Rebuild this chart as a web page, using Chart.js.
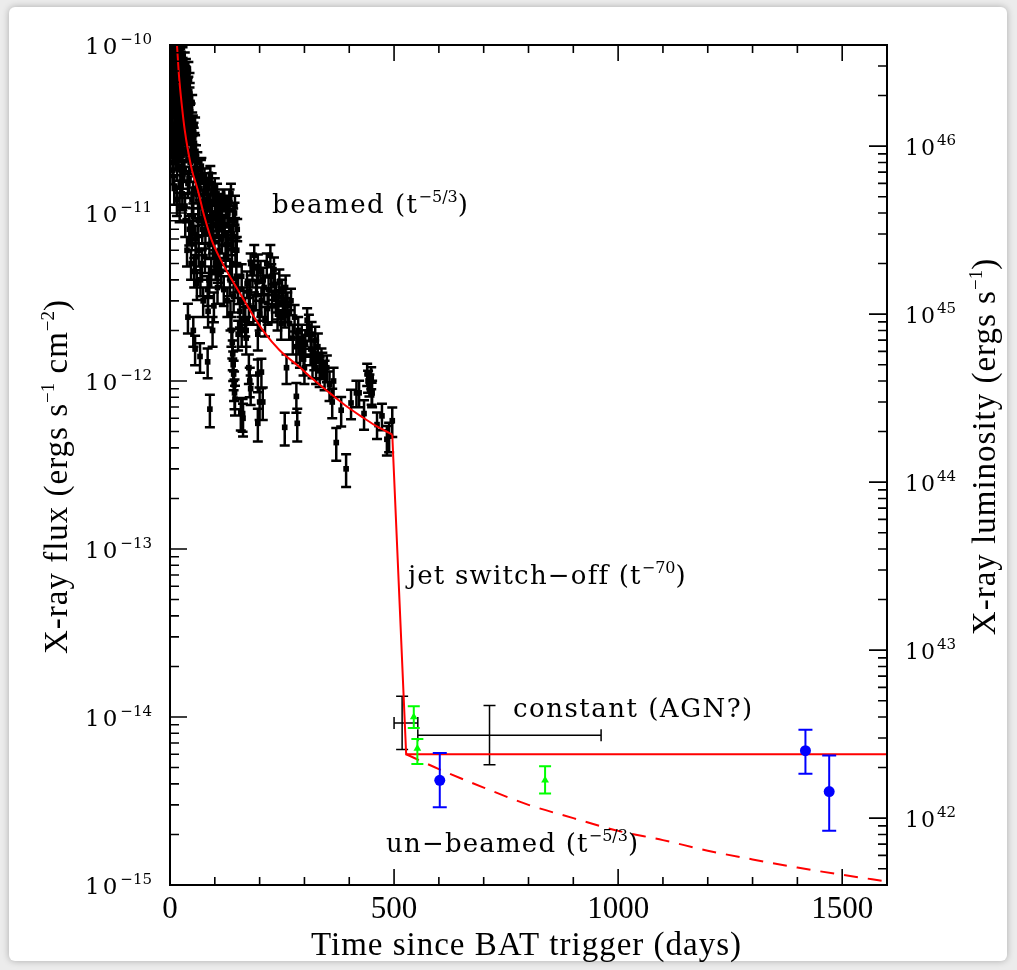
<!DOCTYPE html>
<html>
<head>
<meta charset="utf-8">
<script src="https://cdn.jsdelivr.net/npm/chart.js@4.4.0/dist/chart.umd.min.js"></script>
<style>
  html, body { margin: 0; padding: 0; background: #ececec; }
  #card { position: absolute; left: 9px; top: 7px; width: 998px; height: 954px; background: #fff;
          border-radius: 6px; box-shadow: 0 0 7px rgba(0,0,0,0.28); }
  #wrap { position: absolute; left: 0; top: 0; width: 1017px; height: 970px; }
</style>
</head>
<body>
<div id="card"></div>
<div id="wrap"><canvas id="grafica" width="1017" height="970"></canvas></div>
<script>
// Swift XRT light curve, flux in units of 1e-12 erg/s/cm2, err = fractional 1-sigma
const xrtT = [
  1,2,3,4,5,6,7,8,9,10,11,12,13,14,15,16,17,18,19,20,21,22,23,24,25,26,27,28,29,30,
  1.5,3.5,5.5,7.5,9.5,11.5,13.5,15.5,17.5,19.5,21.5,23.5,25.5,27.5,29.5,
  0.5,2.5,4.5,6.5,8.5,10.5,12.5,14.5,16.5,18.5,20.5,22.5,24.5,26.5,28.5,
  0.8,1.8,2.8,3.8,4.8,5.8,6.8,7.8,8.8,9.8,10.8,11.8,12.8,13.8,14.8,15.8,16.8,
  17.8,18.8,19.8,20.8,21.8,22.8,23.8,24.8,25.8,26.8,27.8,28.8,29.8,31.5,32.5,34,35.5,
  31,32,33,34,35,36,37,38,39,40,41,42,43,44,45,46,47,48,49,50,51,52,53,54,55,56,57,58,59,60,
  33.5,36.5,39.5,42.5,45.5,48.5,51.5,54.5,57.5,40,52,
  34.5,37.5,40.5,43.5,46.5,49.5,52.5,55.5,58.5,61,65,69,73,77,81,85,89,93,97,101,105,109,
  113,117,121,125,129,133,137,141,145,149,
  62,64,66,68,70,72,74,76,78,80,82,84,86,88,90,92,94,96,98,100,102,104,106,108,110,
  63,67,71,75,79,83,87,91,95,99,103,107,56,67,84,89,85,95,
  112,114,116,118,120,122,124,126,128,130,132,134,136,138,140,142,144,146,148,150,
  135,137,139,140,141,142,143,144,145,152,160,170,162,176,178,180,158,163,
  152,156,160,164,168,172,176,180,184,188,192,196,200,
  204,208,212,216,220,224,228,232,236,240,244,248,252,256,
  170,178,186,194,202,210,218,226,234,242,250,
  196,196,200,196,204,207,256,
  258,262,266,270,274,278,282,286,290,294,298,302,306,310,314,318,322,326,330,334,338,316,324,
  260,282,284,300,
  340,345,350,356,362,365,371,382,393,404,416,422,433,440,442,445,449,450,451,462,473,484,489,496
];
const xrtF = [
  92,55,78,38,96,64,30,85,47,70,24,90,58,35,80,19,66,44,97,28,74,52,15,83,40,61,22,88,33,56,
  26,68,18,50,14,42,75,12,36,60,11,46,72,13,27,
  70,85,60,100,45,82,32,67,90,55,40,95,30,50,17,
  50,36,62,25,44,80,54,20,66,38,58,30,48,88,26,52,34,
  76,22,46,64,35,86,24,56,43,70,19,64,45,60,40,30,75,
  48,18,82,9,37,64,26,6,44,15,72,30,8,53,20,40,5,34,12,25,34,9.5,28,4.5,18,33,7,22,14,3.8,
  11,24,58,16,31,7.5,13,26,5.5,2.4,2.0,
  68,55,38,62,28,45,30,22,17,20,14,18,11,16,9.5,14,11,15,8.5,12,13,9,
  11,8,12,6.5,10,12,7,9,11,6,
  16,6,11,4,19,8,3,13,5.5,15,9,3.5,12,6.5,17,4.5,10,7,2.8,14,5,8.5,3.6,11,6,
  9,14,5,10,7.5,12,4,8,13,5.5,9.5,4.8,1.55,1.4,1.3,0.68,2.6,2.0,
  10,4.5,7,12,3.5,8.5,5.5,11,3,6.5,9,4,13,5,7.5,3.2,10,6,4.2,8,
  2.5,2.0,1.7,1.45,1.25,1.1,0.95,0.85,0.78,1.9,2.0,1.8,0.64,1.2,1.0,0.9,0.65,0.6,
  3.5,2.6,4.2,3.0,2.3,3.8,2.8,5.0,4.4,5.6,3.3,4.8,2.5,
  3.0,4.0,2.3,5.0,3.5,5.6,2.8,4.6,3.2,2.5,3.9,2.2,3.0,2.6,
  2.0,3.4,2.7,3.9,4.5,3.6,2.7,4.2,3.7,2.9,3.4,
  1.9,1.1,0.75,0.56,1.13,0.75,0.53,
  3.6,2.8,2.2,3.0,1.8,2.4,1.6,2.0,1.5,1.8,1.35,1.7,2.3,2.1,1.55,1.3,1.45,1.2,1.6,1.15,1.3,1.9,1.75,
  1.2,0.81,0.56,1.2,
  1.25,1.1,1.2,0.95,0.75,1.0,0.43,0.67,0.30,0.74,0.85,0.85,0.64,1.1,1.0,0.95,1.05,0.85,0.85,0.55,0.62,0.45,0.47,0.58
];
const xrtErr = [
  0.1,0.12,0.1,0.15,0.1,0.12,0.15,0.1,0.12,0.1,0.15,0.1,0.12,0.12,0.1,0.18,0.1,0.12,0.1,0.15,0.1,0.12,0.18,0.1,0.12,0.1,0.15,0.1,0.12,0.1,
  0.15,0.1,0.18,0.12,0.2,0.12,0.1,0.2,0.15,0.1,0.2,0.12,0.1,0.2,0.15,
  0.1,0.1,0.12,0.1,0.12,0.1,0.15,0.1,0.1,0.12,0.12,0.1,0.15,0.12,0.18,
  0.12,0.15,0.1,0.15,0.12,0.1,0.12,0.18,0.1,0.12,0.1,0.15,0.12,0.1,0.15,0.12,0.15,
  0.1,0.18,0.12,0.1,0.15,0.1,0.15,0.12,0.12,0.1,0.18,0.1,0.12,0.1,0.12,0.15,0.1,
  0.12,0.15,0.1,0.2,0.12,0.1,0.15,0.2,0.12,0.18,0.1,0.15,0.2,0.12,0.15,0.12,0.2,0.12,0.18,0.15,0.12,0.2,0.15,0.2,0.15,0.12,0.2,0.15,0.18,0.2,
  0.18,0.15,0.1,0.18,0.12,0.2,0.18,0.15,0.2,0.2,0.2,
  0.1,0.12,0.12,0.1,0.15,0.12,0.15,0.15,0.18,0.15,0.18,0.15,0.18,0.15,0.2,0.15,0.18,0.15,0.2,0.15,0.15,0.18,
  0.18,0.2,0.15,0.2,0.18,0.15,0.2,0.18,0.15,0.2,
  0.15,0.2,0.15,0.2,0.12,0.18,0.2,0.15,0.2,0.15,0.18,0.2,0.15,0.18,0.12,0.2,0.15,0.18,0.2,0.15,0.2,0.15,0.2,0.15,0.18,
  0.18,0.15,0.2,0.15,0.18,0.15,0.2,0.18,0.15,0.2,0.18,0.2,0.2,0.2,0.2,0.22,0.2,0.2,
  0.15,0.2,0.18,0.15,0.2,0.15,0.18,0.15,0.2,0.18,0.15,0.2,0.15,0.2,0.18,0.2,0.15,0.18,0.2,0.15,
  0.2,0.2,0.2,0.2,0.2,0.2,0.2,0.2,0.2,0.2,0.2,0.2,0.22,0.2,0.2,0.2,0.22,0.22,
  0.18,0.2,0.18,0.2,0.2,0.18,0.2,0.15,0.18,0.15,0.2,0.18,0.2,
  0.2,0.18,0.2,0.15,0.18,0.15,0.2,0.18,0.2,0.2,0.18,0.2,0.2,0.2,
  0.2,0.18,0.2,0.18,0.15,0.18,0.2,0.18,0.18,0.2,0.18,
  0.2,0.22,0.22,0.22,0.2,0.22,0.22,
  0.18,0.2,0.2,0.18,0.2,0.18,0.2,0.2,0.2,0.2,0.2,0.18,0.18,0.18,0.2,0.2,0.2,0.2,0.2,0.2,0.2,0.18,0.2,
  0.2,0.2,0.22,0.2,
  0.18,0.2,0.18,0.2,0.2,0.2,0.22,0.2,0.22,0.2,0.18,0.18,0.2,0.15,0.15,0.15,0.15,0.15,0.18,0.18,0.18,0.2,0.2,0.2
];

// late binned black points (flux 1e-15 units): time, time range, flux, flux range
const lateT = [518, 713];
const lateTLo = [500, 553];
const lateTHi = [553, 962];
const lateF = [9.2, 7.8];
const lateFLo = [6.4, 5.2];
const lateFHi = [13.3, 11.7];

// green points (flux 1e-15)
const greenT = [544, 552, 837];
const greenF = [10.0, 6.5, 4.2];
const greenLo = [8.6, 5.25, 3.5];
const greenHi = [11.6, 7.4, 5.1];

// blue points (flux 1e-15)
const blueT = [602, 1418, 1471];
const blueF = [4.2, 6.3, 3.6];
const blueLo = [2.9, 4.6, 2.1];
const blueHi = [6.1, 8.4, 5.9];

// model curves
const beamedT = [15.6, 20, 26.7, 33, 40, 49, 62, 76, 93, 116, 138, 160, 182, 211, 244, 289, 320, 356, 390, 429, 460, 496];
const beamedF = [1.0e-10, 6.6e-11, 4.3e-11, 3.1e-11, 2.37e-11, 1.8e-11, 1.37e-11, 9.7e-12, 6.9e-12,
                 5.1e-12, 4.0e-12, 3.2e-12, 2.54e-12, 1.94e-12, 1.53e-12, 1.21e-12, 1.02e-12, 8.5e-13, 7.2e-13, 6.1e-13, 5.4e-13, 4.8e-13];
const switchT = [496, 527, 1600];
const switchF = [4.8e-13, 6.0e-15, 6.0e-15];
const unbeamedT = [527, 600, 700, 800, 900, 1000, 1100, 1200, 1300, 1400, 1500, 1600];
const unbeamedF = [6.0e-15, 4.9e-15, 3.8e-15, 3.0e-15, 2.5e-15, 2.1e-15, 1.85e-15, 1.6e-15, 1.42e-15, 1.27e-15, 1.15e-15, 1.05e-15];

// axes
const fluxTicks = [1e-15, 1e-14, 1e-13, 1e-12, 1e-11, 1e-10];
const fluxExp = ['\u221215', '\u221214', '\u221213', '\u221212', '\u221211', '\u221210'];
const lumTicks = [1e42, 1e43, 1e44, 1e45, 1e46];
const lumExp = ['42', '43', '44', '45', '46'];
const timeTicks = [0, 500, 1000, 1500];
const lumPerFlux = 4e56;

const SERIF = '"DejaVu Serif"';
const TIMES = '"Liberation Serif"';

function rich(ctx, x, y, parts, align, rot) {
  ctx.save();
  ctx.translate(x, y);
  if (rot) ctx.rotate(rot);
  ctx.textAlign = 'left';
  ctx.textBaseline = 'alphabetic';
  ctx.fillStyle = '#000';
  let w = 0;
  parts.forEach(p => { ctx.font = p.font; ctx.letterSpacing = p.ls || '0px'; w += ctx.measureText(p.text).width; });
  let cx = align === 'right' ? -w : (align === 'center' ? -w / 2 : 0);
  parts.forEach(p => {
    ctx.font = p.font; ctx.letterSpacing = p.ls || '0px';
    ctx.fillText(p.text, cx, p.dy || 0);
    cx += ctx.measureText(p.text).width;
  });
  ctx.restore();
}

const errorBars = {
  id: 'errorBars',
  beforeDatasetDraw(chart, args) {
    const ds = chart.data.datasets[args.index];
    if (!ds.errLo && !ds.errXLo) return;
    const { ctx, chartArea: a, scales: { x, y } } = chart;
    ctx.save();
    ctx.beginPath();
    ctx.rect(a.left, a.top, a.right - a.left, a.bottom - a.top);
    ctx.clip();
    ctx.strokeStyle = ds.errColor;
    ctx.lineWidth = ds.errWidth;
    ctx.beginPath();
    const c = ds.capSize;
    ds.data.forEach((p, i) => {
      const px = x.getPixelForValue(p.x), py = y.getPixelForValue(p.y);
      if (ds.errLo) {
        const y1 = y.getPixelForValue(ds.errLo[i]), y2 = y.getPixelForValue(ds.errHi[i]);
        ctx.moveTo(px, y1); ctx.lineTo(px, y2);
        ctx.moveTo(px - c, y1); ctx.lineTo(px + c, y1);
        ctx.moveTo(px - c, y2); ctx.lineTo(px + c, y2);
      }
      if (ds.errXLo) {
        const x1 = x.getPixelForValue(ds.errXLo[i]), x2 = x.getPixelForValue(ds.errXHi[i]);
        ctx.moveTo(x1, py); ctx.lineTo(x2, py);
        ctx.moveTo(x1, py - c); ctx.lineTo(x1, py + c);
        ctx.moveTo(x2, py - c); ctx.lineTo(x2, py + c);
      }
    });
    ctx.stroke();
    ctx.restore();
  }
};

const frame = {
  id: 'frame',
  afterDraw(chart) {
    const { ctx, chartArea: a, scales: { x, y, y2 } } = chart;
    ctx.save();
    ctx.strokeStyle = '#000';
    ctx.lineWidth = 1.6;
    ctx.beginPath();
    for (let v = x.min; v <= x.max; v += 100) {
      const px = x.getPixelForValue(v);
      const len = v % 500 === 0 ? 16 : 8;
      ctx.moveTo(px, a.bottom); ctx.lineTo(px, a.bottom - len);
      ctx.moveTo(px, a.top); ctx.lineTo(px, a.top + len);
    }
    for (let e = -16; e <= -10; e++) {
      for (let m = 1; m <= 9; m++) {
        const v = m * Math.pow(10, e);
        if (v < y.min * 0.999 || v > y.max * 1.001) continue;
        const py = y.getPixelForValue(v);
        ctx.moveTo(a.left, py); ctx.lineTo(a.left + (m === 1 ? 17 : 9), py);
      }
    }
    for (let e = 41; e <= 46; e++) {
      for (let m = 1; m <= 9; m++) {
        const v = m * Math.pow(10, e);
        if (v < y2.min * 0.999 || v > y2.max * 1.001) continue;
        const py = y2.getPixelForValue(v);
        ctx.moveTo(a.right, py); ctx.lineTo(a.right - (m === 1 ? 18 : 9), py);
      }
    }
    ctx.stroke();
    ctx.lineWidth = 2;
    ctx.strokeRect(a.left, a.top, a.right - a.left, a.bottom - a.top);
    ctx.restore();

    // tick labels
    fluxTicks.forEach((v, i) => {
      const py = y.getPixelForValue(v);
      rich(ctx, a.left - 18, py + 9, [
        { text: '10', font: '23px ' + SERIF, ls: '3px' },
        { text: fluxExp[i], font: '15px ' + SERIF, dy: -10 }
      ], 'right');
    });
    lumTicks.forEach((v, i) => {
      const py = y2.getPixelForValue(v);
      rich(ctx, a.right + 18, py + 9, [
        { text: '10', font: '22px ' + SERIF, ls: '2px' },
        { text: lumExp[i], font: '15px ' + SERIF, dy: -10 }
      ], 'left');
    });
    timeTicks.forEach(v => {
      rich(ctx, x.getPixelForValue(v), a.bottom + 33, [{ text: String(v), font: '31px ' + TIMES }], 'center');
    });

    // axis titles
    const T = '33px ' + TIMES, S = '19px ' + TIMES;
    rich(ctx, (a.left + a.right) / 2 - 2, a.bottom + 70, [{ text: 'Time since BAT trigger (days)', font: T, ls: '1px' }], 'center');
    rich(ctx, 67, (a.top + a.bottom) / 2 + 12, [
      { text: 'X-ray flux (ergs s', font: T, ls: '1px' }, { text: '\u22121', font: S, dy: -13 },
      { text: ' cm', font: T, ls: '1px' }, { text: '\u22122', font: S, dy: -13 }, { text: ')', font: T }
    ], 'center', -Math.PI / 2);
    rich(ctx, 995, 447, [
      { text: 'X-ray luminosity (ergs s', font: T, ls: '1px' }, { text: '\u22121', font: S, dy: -13 }, { text: ')', font: T }
    ], 'center', -Math.PI / 2);

    // annotations
    const A = '26px ' + SERIF, P = '16px ' + SERIF;
    rich(ctx, 272, 213, [{ text: 'beamed (t', font: A, ls: '1.5px' }, { text: '\u22125/3', font: P, dy: -11 }, { text: ')', font: A }], 'left');
    rich(ctx, 408, 584, [{ text: 'jet switch\u2212off (t', font: A, ls: '1.2px' }, { text: '\u221270', font: P, dy: -11 }, { text: ')', font: A }], 'left');
    rich(ctx, 513, 717, [{ text: 'constant (AGN?)', font: A, ls: '1.5px' }], 'left');
    rich(ctx, 386, 852, [{ text: 'un\u2212beamed (t', font: A, ls: '1.2px' }, { text: '\u22125/3', font: P, dy: -11 }, { text: ')', font: A }], 'left');
  }
};

const xrtData = xrtT.map((t, i) => ({ x: t, y: xrtF[i] * 1e-12 }));

new Chart(document.getElementById('grafica'), {
  type: 'scatter',
  data: {
    datasets: [
      {
        label: 'green', order: 1,
        data: greenT.map((t, i) => ({ x: t, y: greenF[i] * 1e-15 })),
        errLo: greenLo.map(v => v * 1e-15), errHi: greenHi.map(v => v * 1e-15),
        errColor: '#00ff00', errWidth: 2, capSize: 6,
        pointStyle: 'triangle', pointRadius: 4.5, backgroundColor: '#00ff00', borderColor: '#00ff00', borderWidth: 0
      },
      {
        label: 'blue', order: 2,
        data: blueT.map((t, i) => ({ x: t, y: blueF[i] * 1e-15 })),
        errLo: blueLo.map(v => v * 1e-15), errHi: blueHi.map(v => v * 1e-15),
        errColor: '#0000ff', errWidth: 2, capSize: 7,
        pointStyle: 'circle', pointRadius: 5.5, backgroundColor: '#0000ff', borderColor: '#0000ff', borderWidth: 0
      },
      {
        label: 'beamed', order: 3, showLine: true, data: beamedT.map((t, i) => ({ x: t, y: beamedF[i] })),
        borderColor: '#ff0000', borderWidth: 2, pointRadius: 0, cubicInterpolationMode: 'monotone'
      },
      {
        label: 'switch', order: 4, showLine: true, data: switchT.map((t, i) => ({ x: t, y: switchF[i] })),
        borderColor: '#ff0000', borderWidth: 2, pointRadius: 0
      },
      {
        label: 'unbeamed', order: 5, showLine: true, data: unbeamedT.map((t, i) => ({ x: t, y: unbeamedF[i] })),
        borderColor: '#ff0000', borderWidth: 2, borderDash: [14, 10], pointRadius: 0, cubicInterpolationMode: 'monotone'
      },
      {
        label: 'late', order: 6,
        data: lateT.map((t, i) => ({ x: t, y: lateF[i] * 1e-15 })),
        errLo: lateFLo.map(v => v * 1e-15), errHi: lateFHi.map(v => v * 1e-15),
        errXLo: lateTLo, errXHi: lateTHi,
        errColor: '#000', errWidth: 1.5, capSize: 6, pointRadius: 0
      },
      {
        label: 'xrt', order: 7, data: xrtData,
        errLo: xrtData.map((p, i) => p.y * (1 - xrtErr[i])), errHi: xrtData.map((p, i) => p.y * (1 + xrtErr[i])),
        errColor: '#000', errWidth: 2.5, capSize: 5,
        pointStyle: 'rect', pointRadius: 4, backgroundColor: '#000', borderWidth: 0
      }
    ]
  },
  options: {
    responsive: false,
    animation: false,
    layout: { padding: { top: 45, left: 0, right: 0, bottom: 0 } },
    plugins: { legend: { display: false }, tooltip: { enabled: false } },
    scales: {
      x: {
        type: 'linear', min: 0, max: 1600, position: 'bottom',
        grid: { display: false }, border: { display: false }, ticks: { display: false },
        afterFit: s => { s.height = 85; }
      },
      y: {
        type: 'logarithmic', min: 1e-15, max: 1e-10, position: 'left',
        grid: { display: false }, border: { display: false }, ticks: { display: false },
        afterFit: s => { s.width = 170; }
      },
      y2: {
        type: 'logarithmic', min: 1e-15 * lumPerFlux, max: 1e-10 * lumPerFlux, position: 'right',
        grid: { display: false }, border: { display: false }, ticks: { display: false },
        afterFit: s => { s.width = 130; }
      }
    }
  },
  plugins: [errorBars, frame]
});
</script>
</body>
</html>
